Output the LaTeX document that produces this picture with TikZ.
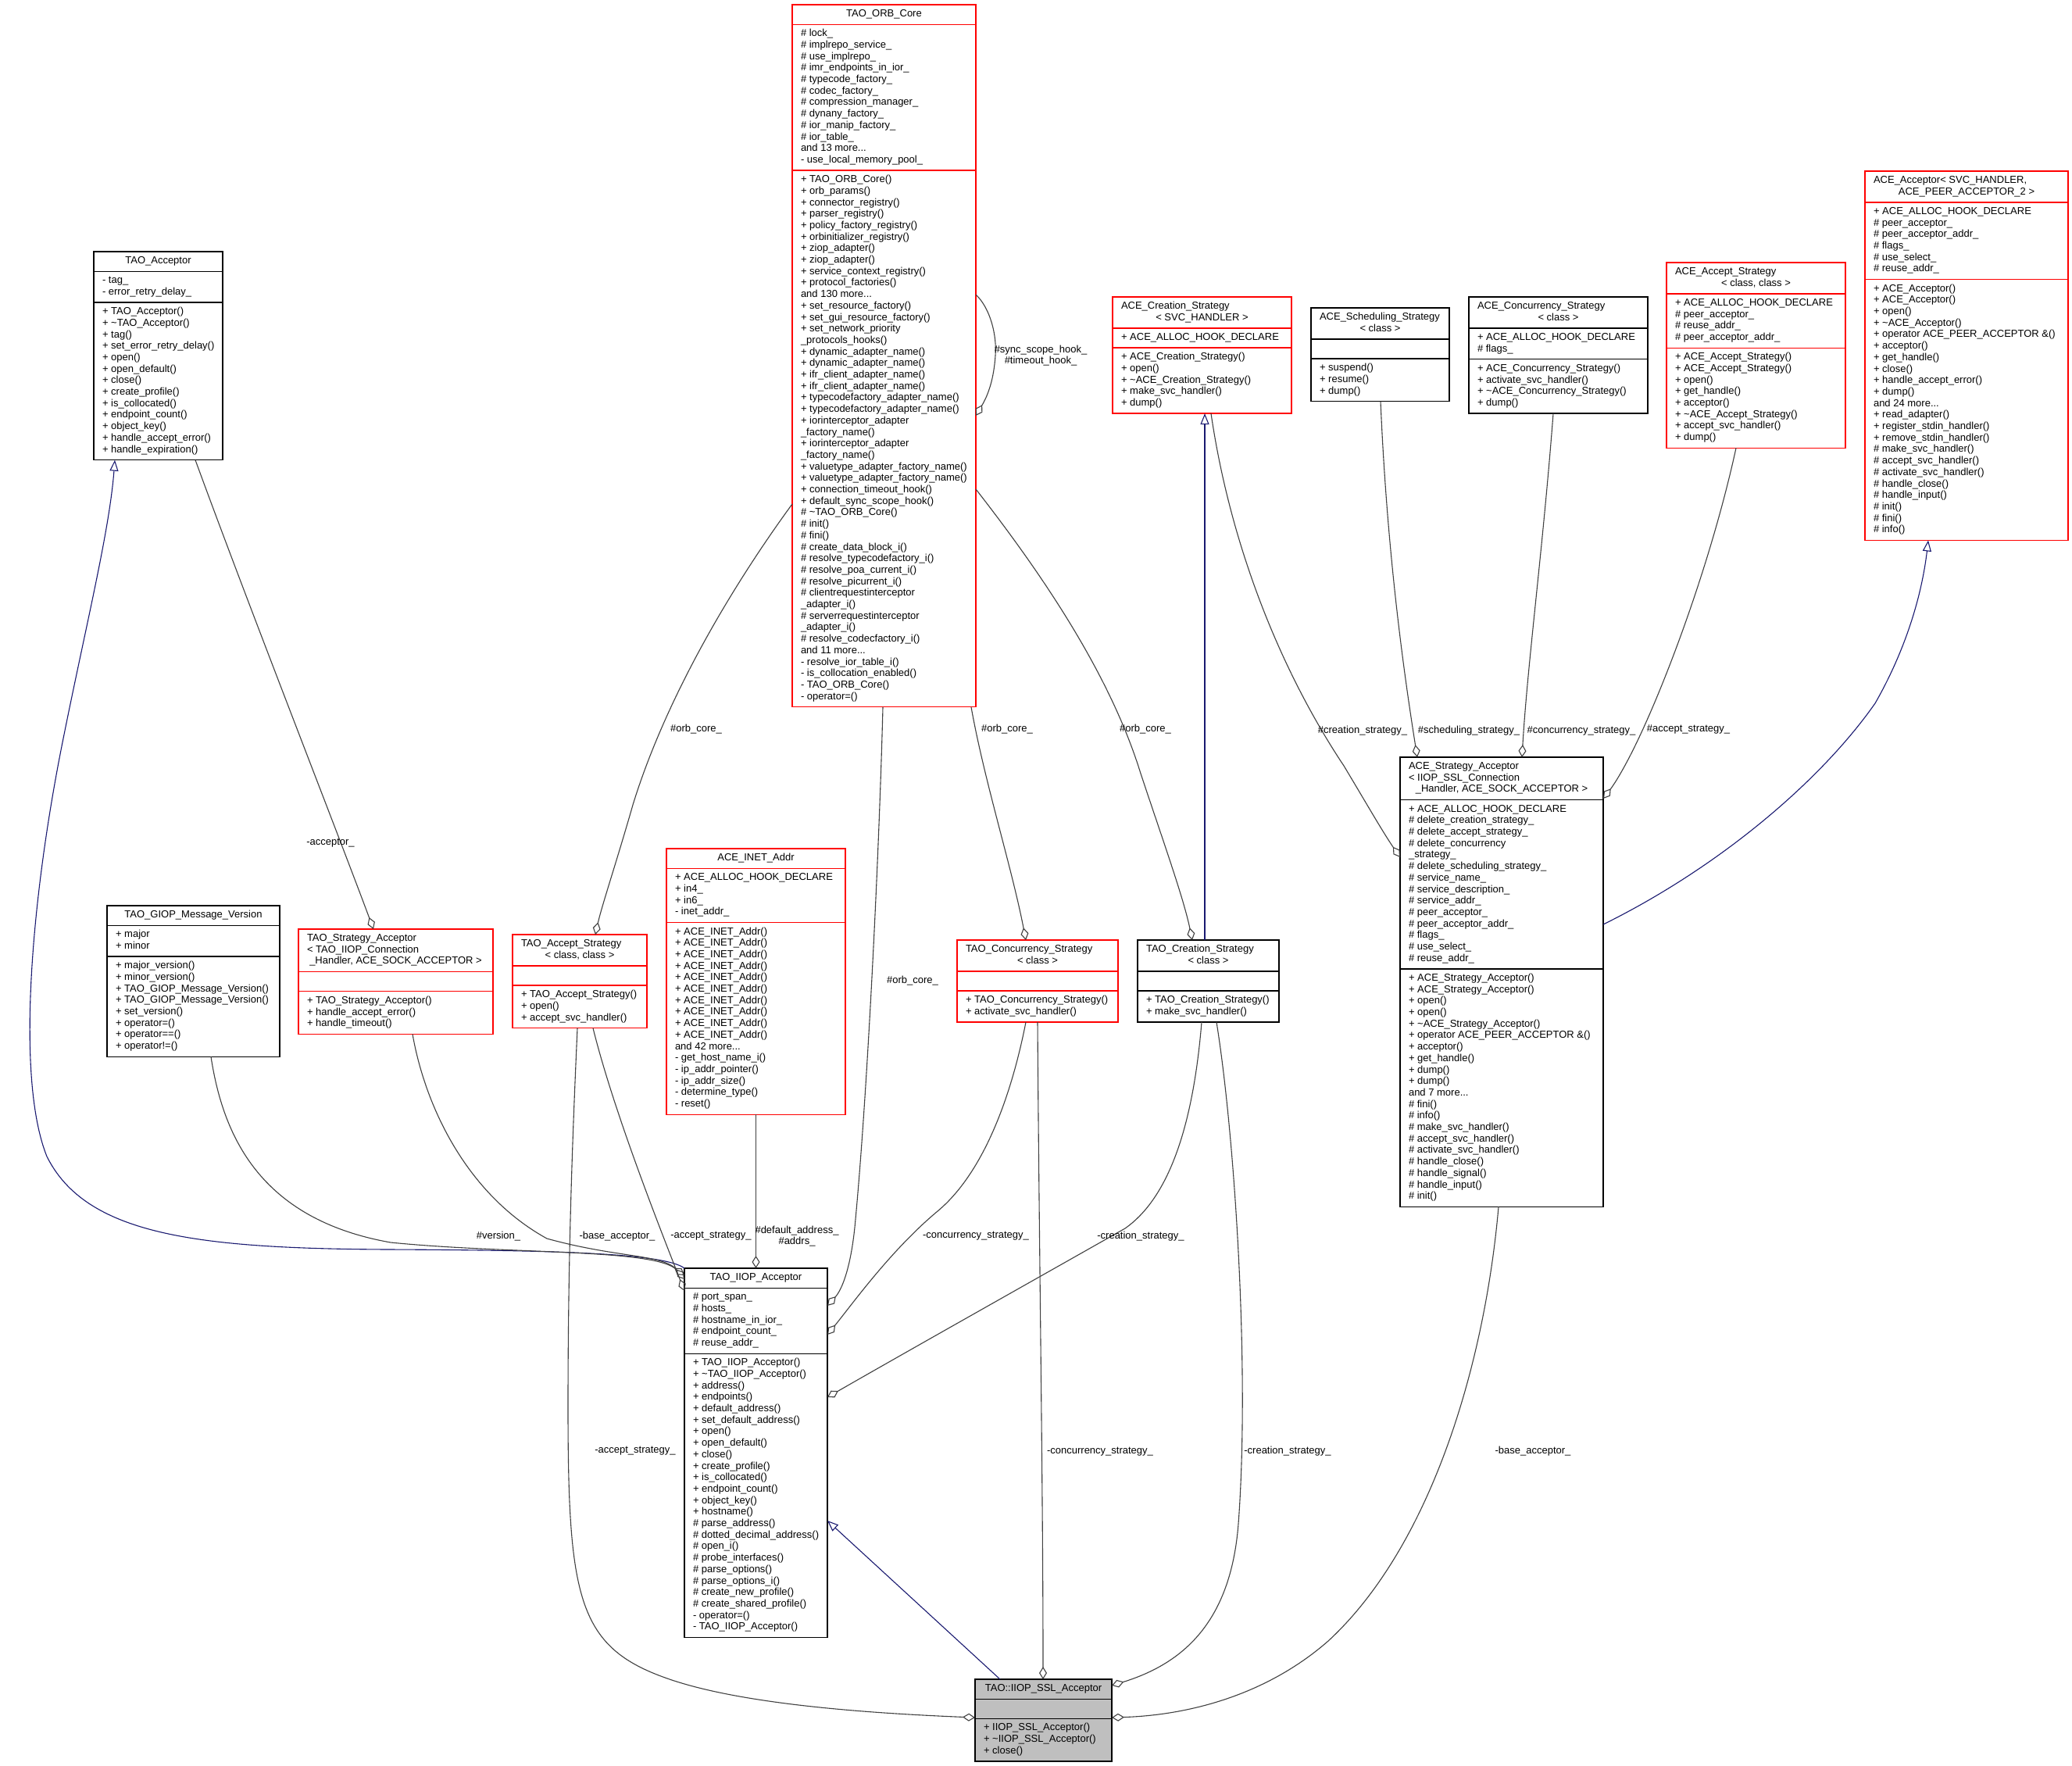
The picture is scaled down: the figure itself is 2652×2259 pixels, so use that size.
\documentclass[tikz,border=0pt]{standalone}
\usepackage{fontspec}
\setmainfont{Liberation Sans}
\usetikzlibrary{arrows.meta,calc}
\definecolor{edgegray}{HTML}{404040}
\definecolor{navyb}{HTML}{191970}
\definecolor{sslgray}{HTML}{BFBFBF}
\definecolor{redb}{HTML}{FF0000}
\tikzset{
  umlbox/.style={line width=1.3pt, inner sep=0pt, outer sep=0pt},
  sepline/.style={line width=1.3pt},
  txt/.style={font=\fontsize{13}{14.7}\selectfont, inner sep=0pt, outer sep=0pt, align=left},
  lbl/.style={font=\fontsize{13}{14.7}\selectfont, inner sep=0pt, align=center},
  agg/.style={draw=edgegray, line width=1.1pt, -{Diamond[open,length=16pt,width=10pt]}},
  gen/.style={draw=navyb, line width=1.1pt, -{Triangle[open,length=14pt,width=11pt]}}
}
\newcommand\umlclass[9]{%
  \pgfmathsetmacro\hT{14.7*#6+10.5}%
  \pgfmathsetmacro\hA{14.7*#7+10.5}%
  \pgfmathsetmacro\hM{14.7*#8+10.5}%
  \pgfmathsetmacro\hH{\hT+\hA+\hM}%
  \pgfmathsetmacro\hTA{\hT+\hA}%
  \pgfmathsetmacro\yA{\hT+5.25}%
  \pgfmathsetmacro\yM{\hTA+5.25}%
  \pgfmathsetmacro\halfw{#4/2-11}%
  \node[umlbox,draw=#5,fill=#9,minimum width=#4pt,minimum height=\hH pt,anchor=north west] (#1) at (#2,#3) {};
  \draw[sepline,draw=#5] ([yshift=-\hT pt]#1.north west) -- ([yshift=-\hT pt]#1.north east);
  \draw[sepline,draw=#5] ([yshift=-\hTA pt]#1.north west) -- ([yshift=-\hTA pt]#1.north east);
}
\newcommand\umltitle[2]{\node[txt,anchor=north west] (#1t) at ([xshift=11pt,yshift=-5.25pt]#1.north west) {\strut\hspace*{\halfw pt}\makebox[0pt]{#2}};}
\newcommand\umltitleml[3]{\node[txt,anchor=north west] (#1t) at ([xshift=11pt,yshift=-5.25pt]#1.north west) {\strut #2\\\hspace*{\halfw pt}\makebox[0pt]{#3}};}
\newcommand\umlattrs[2]{\node[txt,anchor=north west] (#1a) at ([xshift=11pt,yshift=-\yA pt]#1.north west) {\strut #2};}
\newcommand\umlmeth[2]{\node[txt,anchor=north west] (#1m) at ([xshift=11pt,yshift=-\yM pt]#1.north west) {\strut #2};}
\newcommand\tld{\textasciitilde}
\begin{document}
\begin{tikzpicture}[x=1pt,y=-1pt]
\fill[white] (0,0) rectangle (2652,2259);
\useasboundingbox (0,0) rectangle (2652,2259);

% ---------------- TAO_ORB_Core
\umlclass{orb}{1014}{6}{235}{redb}{1}{12}{46}{white}
\umltitle{orb}{TAO\_ORB\_Core}
\umlattrs{orb}{\# lock\_\\\# implrepo\_service\_\\\# use\_implrepo\_\\\# imr\_endpoints\_in\_ior\_\\\# typecode\_factory\_\\\# codec\_factory\_\\\# compression\_manager\_\\\# dynany\_factory\_\\\# ior\_manip\_factory\_\\\# ior\_table\_\\and 13 more...\\- use\_local\_memory\_pool\_}
\umlmeth{orb}{+ TAO\_ORB\_Core()\\+ orb\_params()\\+ connector\_registry()\\+ parser\_registry()\\+ policy\_factory\_registry()\\+ orbinitializer\_registry()\\+ ziop\_adapter()\\+ ziop\_adapter()\\+ service\_context\_registry()\\+ protocol\_factories()\\and 130 more...\\+ set\_resource\_factory()\\+ set\_gui\_resource\_factory()\\+ set\_network\_priority\\\_protocols\_hooks()\\+ dynamic\_adapter\_name()\\+ dynamic\_adapter\_name()\\+ ifr\_client\_adapter\_name()\\+ ifr\_client\_adapter\_name()\\+ typecodefactory\_adapter\_name()\\+ typecodefactory\_adapter\_name()\\+ iorinterceptor\_adapter\\\_factory\_name()\\+ iorinterceptor\_adapter\\\_factory\_name()\\+ valuetype\_adapter\_factory\_name()\\+ valuetype\_adapter\_factory\_name()\\+ connection\_timeout\_hook()\\+ default\_sync\_scope\_hook()\\\# \tld TAO\_ORB\_Core()\\\# init()\\\# fini()\\\# create\_data\_block\_i()\\\# resolve\_typecodefactory\_i()\\\# resolve\_poa\_current\_i()\\\# resolve\_picurrent\_i()\\\# clientrequestinterceptor\\\_adapter\_i()\\\# serverrequestinterceptor\\\_adapter\_i()\\\# resolve\_codecfactory\_i()\\and 11 more...\\- resolve\_ior\_table\_i()\\- is\_collocation\_enabled()\\- TAO\_ORB\_Core()\\- operator=()}

% ---------------- TAO_Acceptor
\umlclass{tacc}{120}{322}{165}{black}{1}{2}{13}{white}
\umltitle{tacc}{TAO\_Acceptor}
\umlattrs{tacc}{- tag\_\\- error\_retry\_delay\_}
\umlmeth{tacc}{+ TAO\_Acceptor()\\+ \tld TAO\_Acceptor()\\+ tag()\\+ set\_error\_retry\_delay()\\+ open()\\+ open\_default()\\+ close()\\+ create\_profile()\\+ is\_collocated()\\+ endpoint\_count()\\+ object\_key()\\+ handle\_accept\_error()\\+ handle\_expiration()}

% ---------------- ACE_Creation_Strategy
\umlclass{acre}{1424}{380}{229}{redb}{2}{1}{5}{white}
\umltitleml{acre}{ACE\_Creation\_Strategy}{< SVC\_HANDLER >}
\umlattrs{acre}{+ ACE\_ALLOC\_HOOK\_DECLARE}
\umlmeth{acre}{+ ACE\_Creation\_Strategy()\\+ open()\\+ \tld ACE\_Creation\_Strategy()\\+ make\_svc\_handler()\\+ dump()}

% ---------------- ACE_Scheduling_Strategy
\umlclass{asch}{1678}{394}{177}{black}{2}{1}{3}{white}
\umltitleml{asch}{ACE\_Scheduling\_Strategy}{< class >}
\umlmeth{asch}{+ suspend()\\+ resume()\\+ dump()}

% ---------------- ACE_Concurrency_Strategy
\umlclass{acon}{1880}{380}{229}{black}{2}{2}{4}{white}
\umltitleml{acon}{ACE\_Concurrency\_Strategy}{< class >}
\umlattrs{acon}{+ ACE\_ALLOC\_HOOK\_DECLARE\\\# flags\_}
\umlmeth{acon}{+ ACE\_Concurrency\_Strategy()\\+ activate\_svc\_handler()\\+ \tld ACE\_Concurrency\_Strategy()\\+ dump()}

% ---------------- ACE_Accept_Strategy
\umlclass{aacc}{2133}{336}{229}{redb}{2}{4}{8}{white}
\umltitleml{aacc}{ACE\_Accept\_Strategy}{< class, class >}
\umlattrs{aacc}{+ ACE\_ALLOC\_HOOK\_DECLARE\\\# peer\_acceptor\_\\\# reuse\_addr\_\\\# peer\_acceptor\_addr\_}
\umlmeth{aacc}{+ ACE\_Accept\_Strategy()\\+ ACE\_Accept\_Strategy()\\+ open()\\+ get\_handle()\\+ acceptor()\\+ \tld ACE\_Accept\_Strategy()\\+ accept\_svc\_handler()\\+ dump()}

% ---------------- ACE_Acceptor
\umlclass{aacpt}{2387}{219}{260}{redb}{2}{6}{22}{white}
\umltitleml{aacpt}{ACE\_Acceptor< SVC\_HANDLER,}{ACE\_PEER\_ACCEPTOR\_2 >}
\umlattrs{aacpt}{+ ACE\_ALLOC\_HOOK\_DECLARE\\\# peer\_acceptor\_\\\# peer\_acceptor\_addr\_\\\# flags\_\\\# use\_select\_\\\# reuse\_addr\_}
\umlmeth{aacpt}{+ ACE\_Acceptor()\\+ ACE\_Acceptor()\\+ open()\\+ \tld ACE\_Acceptor()\\+ operator ACE\_PEER\_ACCEPTOR \&()\\+ acceptor()\\+ get\_handle()\\+ close()\\+ handle\_accept\_error()\\+ dump()\\and 24 more...\\+ read\_adapter()\\+ register\_stdin\_handler()\\+ remove\_stdin\_handler()\\\# make\_svc\_handler()\\\# accept\_svc\_handler()\\\# activate\_svc\_handler()\\\# handle\_close()\\\# handle\_input()\\\# init()\\\# fini()\\\# info()}

% ---------------- ACE_Strategy_Acceptor
\umlclass{acstr}{1792}{969}{260}{black}{3}{14}{20}{white}
\umltitleml{acstr}{ACE\_Strategy\_Acceptor\\< IIOP\_SSL\_Connection}{\_Handler, ACE\_SOCK\_ACCEPTOR >}
\umlattrs{acstr}{+ ACE\_ALLOC\_HOOK\_DECLARE\\\# delete\_creation\_strategy\_\\\# delete\_accept\_strategy\_\\\# delete\_concurrency\\\_strategy\_\\\# delete\_scheduling\_strategy\_\\\# service\_name\_\\\# service\_description\_\\\# service\_addr\_\\\# peer\_acceptor\_\\\# peer\_acceptor\_addr\_\\\# flags\_\\\# use\_select\_\\\# reuse\_addr\_}
\umlmeth{acstr}{+ ACE\_Strategy\_Acceptor()\\+ ACE\_Strategy\_Acceptor()\\+ open()\\+ open()\\+ \tld ACE\_Strategy\_Acceptor()\\+ operator ACE\_PEER\_ACCEPTOR \&()\\+ acceptor()\\+ get\_handle()\\+ dump()\\+ dump()\\and 7 more...\\\# fini()\\\# info()\\\# make\_svc\_handler()\\\# accept\_svc\_handler()\\\# activate\_svc\_handler()\\\# handle\_close()\\\# handle\_signal()\\\# handle\_input()\\\# init()}

% ---------------- TAO_GIOP_Message_Version
\umlclass{giop}{137}{1159}{221}{black}{1}{2}{8}{white}
\umltitle{giop}{TAO\_GIOP\_Message\_Version}
\umlattrs{giop}{+ major\\+ minor}
\umlmeth{giop}{+ major\_version()\\+ minor\_version()\\+ TAO\_GIOP\_Message\_Version()\\+ TAO\_GIOP\_Message\_Version()\\+ set\_version()\\+ operator=()\\+ operator==()\\+ operator!=()}

% ---------------- TAO_Strategy_Acceptor
\umlclass{tstr}{382}{1189}{249}{redb}{3}{1}{3}{white}
\umltitleml{tstr}{TAO\_Strategy\_Acceptor\\< TAO\_IIOP\_Connection}{\_Handler, ACE\_SOCK\_ACCEPTOR >}
\umlmeth{tstr}{+ TAO\_Strategy\_Acceptor()\\+ handle\_accept\_error()\\+ handle\_timeout()}

% ---------------- TAO_Accept_Strategy
\umlclass{tacs}{656}{1196}{172}{redb}{2}{1}{3}{white}
\umltitleml{tacs}{TAO\_Accept\_Strategy}{< class, class >}
\umlmeth{tacs}{+ TAO\_Accept\_Strategy()\\+ open()\\+ accept\_svc\_handler()}

% ---------------- ACE_INET_Addr
\umlclass{inet}{853}{1086}{229}{redb}{1}{4}{16}{white}
\umltitle{inet}{ACE\_INET\_Addr}
\umlattrs{inet}{+ ACE\_ALLOC\_HOOK\_DECLARE\\+ in4\_\\+ in6\_\\- inet\_addr\_}
\umlmeth{inet}{+ ACE\_INET\_Addr()\\+ ACE\_INET\_Addr()\\+ ACE\_INET\_Addr()\\+ ACE\_INET\_Addr()\\+ ACE\_INET\_Addr()\\+ ACE\_INET\_Addr()\\+ ACE\_INET\_Addr()\\+ ACE\_INET\_Addr()\\+ ACE\_INET\_Addr()\\+ ACE\_INET\_Addr()\\and 42 more...\\- get\_host\_name\_i()\\- ip\_addr\_pointer()\\- ip\_addr\_size()\\- determine\_type()\\- reset()}

% ---------------- TAO_Concurrency_Strategy
\umlclass{tcon}{1225}{1203}{206}{redb}{2}{1}{2}{white}
\umltitleml{tcon}{TAO\_Concurrency\_Strategy}{< class >}
\umlmeth{tcon}{+ TAO\_Concurrency\_Strategy()\\+ activate\_svc\_handler()}

% ---------------- TAO_Creation_Strategy
\umlclass{tcre}{1456}{1203}{181}{black}{2}{1}{2}{white}
\umltitleml{tcre}{TAO\_Creation\_Strategy}{< class >}
\umlmeth{tcre}{+ TAO\_Creation\_Strategy()\\+ make\_svc\_handler()}

% ---------------- TAO_IIOP_Acceptor
\umlclass{iiop}{876}{1623}{183}{black}{1}{5}{24}{white}
\umltitle{iiop}{TAO\_IIOP\_Acceptor}
\umlattrs{iiop}{\# port\_span\_\\\# hosts\_\\\# hostname\_in\_ior\_\\\# endpoint\_count\_\\\# reuse\_addr\_}
\umlmeth{iiop}{+ TAO\_IIOP\_Acceptor()\\+ \tld TAO\_IIOP\_Acceptor()\\+ address()\\+ endpoints()\\+ default\_address()\\+ set\_default\_address()\\+ open()\\+ open\_default()\\+ close()\\+ create\_profile()\\+ is\_collocated()\\+ endpoint\_count()\\+ object\_key()\\+ hostname()\\\# parse\_address()\\\# dotted\_decimal\_address()\\\# open\_i()\\\# probe\_interfaces()\\\# parse\_options()\\\# parse\_options\_i()\\\# create\_new\_profile()\\\# create\_shared\_profile()\\- operator=()\\- TAO\_IIOP\_Acceptor()}

% ---------------- TAO::IIOP_SSL_Acceptor
\umlclass{ssl}{1248}{2149}{175}{black}{1}{1}{3}{sslgray}
\umltitle{ssl}{TAO::IIOP\_SSL\_Acceptor}
\umlmeth{ssl}{+ IIOP\_SSL\_Acceptor()\\+ \tld IIOP\_SSL\_Acceptor()\\+ close()}

% ================= connectors
% generalizations
\draw[gen] (iiop.north west) .. controls (850,1603) and (700,1600) .. (500,1599) .. controls (250,1598) and (110,1580) .. (60,1480) .. controls (20,1380) and (40,1150) .. (80,950) .. controls (110,800) and (140,680) .. (147,0 |- tacc.south);
\draw[gen] (1542,0 |- tcre.north) -- (1542,0 |- acre.south);
\draw[gen] (1280,0 |- ssl.north) -- (iiop.east |- 0,1946);
\draw[gen] (acstr.east |- 0,1183) .. controls (2200,1110) and (2330,1000) .. (2400,900) .. controls (2440,830) and (2460,760) .. (2468,0 |- aacpt.south);

% aggregations into TAO_IIOP_Acceptor
\draw[agg] (270,0 |- giop.south) .. controls (285,1450) and (330,1560) .. (500,1590) .. controls (650,1605) and (830,1598) .. (iiop.west |- 0,1632);
\draw[agg] (528,0 |- tstr.south) .. controls (545,1420) and (600,1530) .. (700,1585) .. controls (790,1610) and (850,1605) .. (iiop.west |- 0,1637);
\draw[agg] (759,0 |- tacs.south) .. controls (785,1420) and (840,1560) .. (iiop.west |- 0,1652);
\draw[agg] (inet.south) -- (iiop.north);
\draw[agg] (1130,0 |- orb.south) .. controls (1125,1100) and (1110,1400) .. (1095,1560) .. controls (1090,1620) and (1078,1650) .. (iiop.east |- 0,1671);
\draw[agg] (1313,0 |- tcon.south) .. controls (1295,1400) and (1260,1500) .. (1200,1550) .. controls (1140,1600) and (1090,1670) .. (iiop.east |- 0,1708);
\draw[agg] (1538,0 |- tcre.south) .. controls (1528,1430) and (1500,1530) .. (1440,1572) .. controls (1320,1640) and (1160,1730) .. (iiop.east |- 0,1788);

% other aggregations
\draw[agg] (250,0 |- tacc.south) .. controls (320,780) and (430,1060) .. (478,0 |- tstr.north);
\draw[agg] (orb.west |- 0,645) .. controls (930,760) and (850,900) .. (810,1030) .. controls (790,1100) and (770,1160) .. (762,0 |- tacs.north);
\draw[agg] (1243,0 |- orb.south) .. controls (1260,1000) and (1295,1110) .. (1313,0 |- tcon.north);
\draw[agg] (orb.east |- 0,626) .. controls (1330,730) and (1420,860) .. (1460,990) .. controls (1490,1080) and (1515,1150) .. (1526,0 |- tcre.north);
\draw[agg] (orb.east |- 0,377) .. controls (1268,395) and (1276,430) .. (1274,455) .. controls (1272,485) and (1265,505) .. (orb.east |- 0,532);

% into TAO::IIOP_SSL_Acceptor
\draw[agg] (739,0 |- tacs.south) .. controls (733,1450) and (727,1600) .. (727,1800) .. controls (727,2050) and (740,2110) .. (860,2150) .. controls (950,2180) and (1100,2192) .. (ssl.west |- 0,2198);
\draw[agg] (1328,0 |- tcon.south) .. controls (1330,1600) and (1335,1900) .. (1335,0 |- ssl.north);
\draw[agg] (1557,0 |- tcre.south) .. controls (1580,1450) and (1600,1750) .. (1585,1950) .. controls (1575,2080) and (1510,2130) .. (ssl.east |- 0,2157);
\draw[agg] (1918,0 |- acstr.south) .. controls (1900,1750) and (1830,1980) .. (1700,2100) .. controls (1620,2170) and (1520,2195) .. (ssl.east |- 0,2198);

% into ACE_Strategy_Acceptor
\draw[agg] (1550,0 |- acre.south) .. controls (1575,700) and (1640,860) .. (1720,980) .. controls (1750,1030) and (1770,1065) .. (acstr.west |- 0,1097);
\draw[agg] (1767,0 |- asch.south) .. controls (1775,700) and (1795,850) .. (1814,0 |- acstr.north);
\draw[agg] (1988,0 |- acon.south) .. controls (1975,700) and (1955,850) .. (1948,0 |- acstr.north);
\draw[agg] (2222,0 |- aacc.south) .. controls (2190,720) and (2130,880) .. (2090,960) .. controls (2075,990) and (2065,1005) .. (acstr.east |- 0,1022);

% ================= labels
\node[lbl] (l01) at (423,1079) {-acceptor\_};
\node[lbl] (l02) at (891,933) {\#orb\_core\_};
\node[lbl] (l03) at (638,1582) {\#version\_};
\node[lbl] (l04) at (790,1582) {-base\_acceptor\_};
\node[lbl] (l05) at (910,1582) {-accept\_strategy\_};
\node[lbl] (l06) at (1020,1582) {\#default\_address\_\\\#addrs\_};
\node[lbl] (l07) at (1168,1255) {\#orb\_core\_};
\node[lbl] (l08) at (1249,1582) {-concurrency\_strategy\_};
\node[lbl] (l09) at (1289,933) {\#orb\_core\_};
\node[lbl] (l10) at (1460,1582) {-creation\_strategy\_};
\node[lbl] (l11) at (1466,933) {\#orb\_core\_};
\node[lbl] (l12) at (1332,455) {\#sync\_scope\_hook\_\\\#timeout\_hook\_};
\node[lbl] (l13) at (813,1857) {-accept\_strategy\_};
\node[lbl] (l14) at (1408,1858) {-concurrency\_strategy\_};
\node[lbl] (l15) at (1648,1857) {-creation\_strategy\_};
\node[lbl] (l16) at (1962,1857) {-base\_acceptor\_};
\node[lbl] (l17) at (1744,935) {\#creation\_strategy\_};
\node[lbl] (l18) at (1880,935) {\#scheduling\_strategy\_};
\node[lbl] (l19) at (2024,935) {\#concurrency\_strategy\_};
\node[lbl] (l20) at (2161,933) {\#accept\_strategy\_};
\end{tikzpicture}
\end{document}
